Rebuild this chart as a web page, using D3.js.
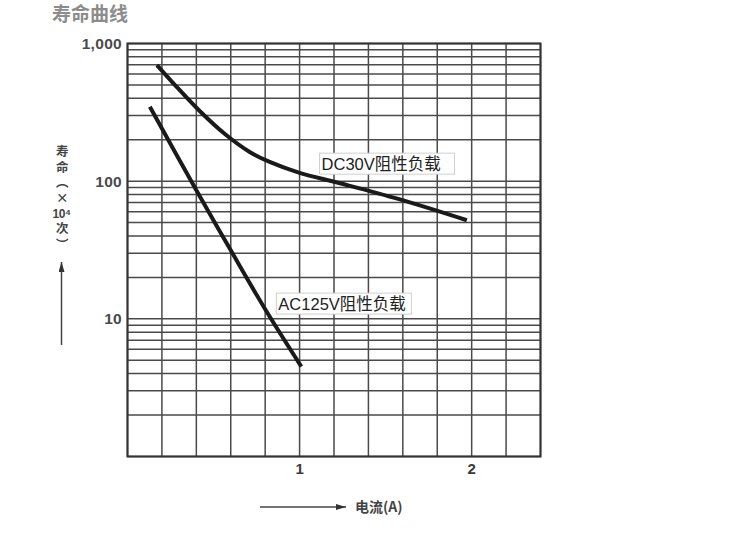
<!DOCTYPE html>
<html>
<head>
<meta charset="utf-8">
<script src="https://cdn.jsdelivr.net/npm/d3@7"></script>
<style>
  html, body { margin: 0; padding: 0; background: #fff; }
  #wrap { position: relative; width: 729px; height: 537px; }
  svg { display: block; position: absolute; left: 0; top: 0; }
  #ylabel {
    position: absolute; width: 16px;
    display: flex; flex-direction: column; align-items: center;
    font-family: 'Noto Sans CJK SC', sans-serif;
    font-size: 12.5px; font-weight: bold; color: #444;
    line-height: 1; white-space: nowrap;
  }
  #ylabel .v { writing-mode: vertical-rl; letter-spacing: 3px; }
  #ylabel .h { font-family: 'Liberation Sans', Arial, sans-serif; font-size: 12px; margin: 1px 0 2px 0; letter-spacing: -0.5px; }
</style>
</head>
<body>
<div id="wrap">
<svg id="chart" width="729" height="537"></svg>
</div>
<script>
// ---- data ----
const title = "寿命曲线";
const xTickValues = [1, 2];
const yTickValues = [10, 100, 1000];
const yTickLabels = ["10", "100", "1,000"];
const xLabel = "电流(A)";
const yLabelParts = ["寿命（×", "10⁴", "次）"];

const dcCurrent = [0.171, 0.276, 0.421, 0.566, 0.710, 0.826, 1.00, 1.23, 1.578, 1.972];
const dcLife    = [697, 499, 322, 220, 163, 138, 115, 97, 74, 52];
const acCurrent = [0.13, 0.40, 0.60, 0.81, 1.01];
const acLife    = [347, 86, 31.5, 11.2, 4.5];

const seriesNames = ["DC30V阻性负载", "AC125V阻性负载"];
const labelAnchorX = [1.116, 0.865];
const labelAnchorY = [134, 12.9];

// ---- layout ----
const svg = d3.select("#chart");
const x = d3.scaleLinear().domain([0, 2.4]).range([127.5, 540.5]);
const y = d3.scaleLog().domain([1, 1000]).range([456.5, 43.5]);

// title
svg.append("text")
  .attr("x", 52).attr("y", 21)
  .attr("font-family", "'Noto Sans CJK SC', sans-serif")
  .attr("font-size", 19).attr("font-weight", "bold")
  .attr("fill", "#8c8c8c")
  .text(title);

// grid
const grid = svg.append("g");
const xGrid = d3.range(0, 2.4001, 0.2);
grid.selectAll("line.v").data(xGrid).enter().append("line")
  .attr("x1", d => x(d)).attr("x2", d => x(d))
  .attr("y1", y(1)).attr("y2", y(1000))
  .attr("stroke", "#4a4a4a").attr("stroke-width", 1.5);
grid.selectAll("line.h").data(y.ticks()).enter().append("line")
  .attr("x1", x(0)).attr("x2", x(2.4))
  .attr("y1", d => y(d)).attr("y2", d => y(d))
  .attr("stroke", "#4a4a4a").attr("stroke-width", 1.5);
// frame
svg.append("rect")
  .attr("x", x(0)).attr("y", y(1000))
  .attr("width", x(2.4) - x(0)).attr("height", y(1) - y(1000))
  .attr("fill", "none").attr("stroke", "#333").attr("stroke-width", 2);

// y tick labels
svg.selectAll("text.yt").data(yTickValues).enter().append("text")
  .attr("x", 122).attr("y", d => y(d))
  .attr("dy", "0.36em")
  .attr("text-anchor", "end")
  .attr("font-family", "'Liberation Sans', Arial, sans-serif")
  .attr("font-size", 15.5).attr("font-weight", "bold")
  .attr("letter-spacing", 0.3)
  .attr("fill", "#4a4a4a")
  .text((d, i) => yTickLabels[i]);

// x tick labels
svg.selectAll("text.xt").data(xTickValues).enter().append("text")
  .attr("x", d => x(d)).attr("y", 474)
  .attr("text-anchor", "middle")
  .attr("font-family", "'Liberation Sans', Arial, sans-serif")
  .attr("font-size", 15).attr("font-weight", "bold")
  .attr("fill", "#3a3a3a")
  .text(d => d);

// curves
const line = d3.line().x(d => x(d[0])).y(d => y(d[1])).curve(d3.curveCatmullRom.alpha(0.5));
const dcData = dcCurrent.map((c, i) => [c, dcLife[i]]);
const acData = acCurrent.map((c, i) => [c, acLife[i]]);
[dcData, acData].forEach(data => {
  svg.append("path").datum(data)
    .attr("d", line)
    .attr("fill", "none")
    .attr("stroke", "#1a1a1a")
    .attr("stroke-width", 4)
    .attr("stroke-linecap", "butt");
});

// series labels
seriesNames.forEach((name, i) => {
  const g = svg.append("g").attr("transform", `translate(${x(labelAnchorX[i])},${y(labelAnchorY[i])})`);
  g.append("rect")
    .attr("x", 0).attr("y", -10.5)
    .attr("width", 135).attr("height", 21)
    .attr("fill", "#fff").attr("stroke", "#cfcfcf").attr("stroke-width", 1);
  g.append("text")
    .attr("x", 2).attr("y", 0).attr("dy", "0.36em")
    .attr("font-family", "'Liberation Sans Narrow', 'Liberation Sans', 'Noto Sans CJK SC', sans-serif")
    .attr("font-size", 16.5)
    .attr("fill", "#222")
    .text(name);
});

// arrow marker
svg.append("defs").append("marker")
  .attr("id", "arr").attr("viewBox", "0 0 10 6")
  .attr("refX", 10).attr("refY", 3)
  .attr("markerWidth", 10).attr("markerHeight", 6)
  .attr("markerUnits", "userSpaceOnUse")
  .attr("orient", "auto")
  .append("path").attr("d", "M0,0 L10,3 L0,6 Z").attr("fill", "#333");

// y label (vertical, with horizontal "10⁴")
const yl = d3.select("#wrap").append("div").attr("id", "ylabel")
  .style("left", "53.5px").style("top", "145px");
yl.append("div").attr("class", "v").text(yLabelParts[0]);
yl.append("div").attr("class", "h").text(yLabelParts[1]);
yl.append("div").attr("class", "v").text(yLabelParts[2]);

svg.append("line")
  .attr("x1", 61.5).attr("x2", 61.5).attr("y1", 345).attr("y2", 262)
  .attr("stroke", "#444").attr("stroke-width", 1.5)
  .attr("marker-end", "url(#arr)");

// x label with arrow
svg.append("line")
  .attr("x1", 260).attr("x2", 346).attr("y1", 507).attr("y2", 507)
  .attr("stroke", "#444").attr("stroke-width", 1.5)
  .attr("marker-end", "url(#arr)");
svg.append("text")
  .attr("x", 355).attr("y", 507).attr("dy", "0.36em")
  .attr("font-family", "'Noto Sans CJK SC', sans-serif")
  .attr("font-size", 14).attr("font-weight", "bold")
  .attr("fill", "#444")
  .text(xLabel);
</script>
</body>
</html>
